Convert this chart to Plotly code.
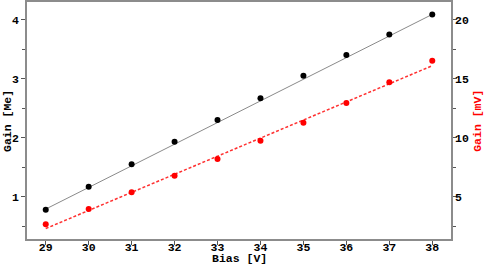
import plotly.graph_objects as go

bias = [29, 30, 31, 32, 33, 34, 35, 36, 37, 38]
gain_me = [0.78, 1.17, 1.55, 1.93, 2.30, 2.67, 3.05, 3.40, 3.75, 4.09]
gain_mv = [2.66, 3.96, 5.37, 6.78, 8.19, 9.75, 11.27, 12.94, 14.69, 16.53]

fit_bias = [29, 38]
fit_me = [0.79, 4.09]
fit_mv = [2.30, 16.10]

FONT = "Liberation Mono"
AX = "#8c8c8c"

fig = go.Figure()

fig.add_trace(go.Scatter(x=fit_bias, y=fit_me, mode="lines",
                         line=dict(color="#8a8a8a", width=1), showlegend=False))
fig.add_trace(go.Scatter(x=bias, y=gain_me, mode="markers",
                         marker=dict(color="black", size=6), showlegend=False))
fig.add_trace(go.Scatter(x=fit_bias, y=fit_mv, mode="lines", yaxis="y2",
                         line=dict(color="#ff3030", width=1.5, dash="3px,2px"),
                         showlegend=False))
fig.add_trace(go.Scatter(x=bias, y=gain_mv, mode="markers", yaxis="y2",
                         marker=dict(color="red", size=6), showlegend=False))

tickfont = dict(family=FONT, size=11.5, color="black", weight="bold")

fig.update_layout(
    width=484, height=266,
    margin=dict(l=27, r=33, t=2, b=27, autoexpand=False),
    paper_bgcolor="white", plot_bgcolor="white",
    font=dict(family=FONT, size=12, color="black"),
    xaxis=dict(
        range=[28.564, 38.436], tickvals=bias, showgrid=False, zeroline=False,
        showline=True, linecolor=AX, linewidth=1.5, mirror=True, automargin=False,
        ticks="outside", ticklen=4, tickcolor="#555", tickfont=tickfont,
        ticklabelstandoff=-8,
    ),
    yaxis=dict(
        range=[0.283, 4.30], tickvals=[1, 2, 3, 4], showgrid=False, zeroline=False,
        showline=True, linecolor=AX, linewidth=1.5, automargin=False,
        ticks="outside", ticklen=4, tickcolor="#555", tickfont=tickfont,
        minor=dict(tickvals=[0.5, 1.5, 2.5, 3.5], ticks="outside", ticklen=3,
                   tickcolor="#555"),
    ),
    yaxis2=dict(
        range=[1.415, 21.5], tickvals=[5, 10, 15, 20], overlaying="y", side="right",
        showgrid=False, zeroline=False, showline=True, linecolor=AX, linewidth=1.5,
        automargin=False,
        ticks="outside", ticklen=4, tickcolor="#555", tickfont=tickfont,
        ticklabelstandoff=-4,
        minor=dict(tickvals=[2.5, 7.5, 12.5, 17.5], ticks="outside", ticklen=3,
                   tickcolor="#555"),
    ),
    annotations=[
        dict(text="<b>Bias [V]</b>", xref="paper", yref="paper", x=0.5, y=-0.114,
             xanchor="center", yanchor="bottom", showarrow=False, borderpad=0,
             font=dict(family=FONT, size=11.5, color="black")),
        dict(text="<b>Gain [Me]</b>", xref="paper", yref="paper", x=-0.046, y=0.5,
             xanchor="center", yanchor="middle", textangle=-90, showarrow=False,
             font=dict(family=FONT, size=11.5, color="black")),
        dict(text="<b>Gain [mV]</b>", xref="paper", yref="paper", x=1.062, y=0.5,
             xanchor="center", yanchor="middle", textangle=-90, showarrow=False,
             font=dict(family=FONT, size=11.5, color="red")),
    ],
)

# drop the page's default body margin so the figure sits at the window corner
fig.write_html("out.html", config={"displayModeBar": False},
               post_script="document.body.style.margin='0';")
